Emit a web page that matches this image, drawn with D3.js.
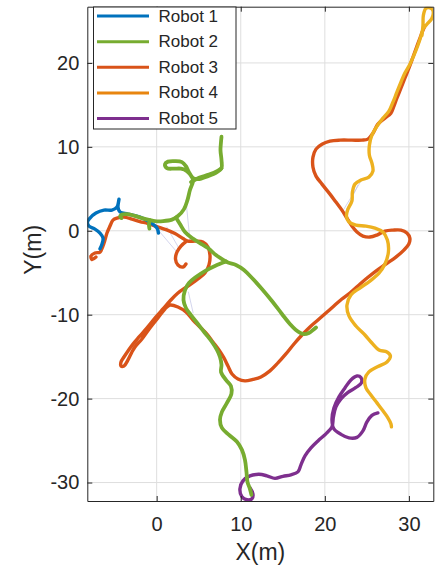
<!DOCTYPE html>
<html>
<head>
<meta charset="utf-8">
<script src="https://cdn.jsdelivr.net/npm/d3@7"></script>
<style>
  body { margin: 0; background: #fff; }
  svg { display: block; }
  text { font-family: Arial, "Liberation Sans", Helvetica, sans-serif; fill: #262626; }
</style>
</head>
<body>
<svg id="chart" width="444" height="570"></svg>
<script>
// ---- data: trajectories in metres, each robot is a list of [x, y] polylines ----
const robotNames = ["Robot 1", "Robot 2", "Robot 3", "Robot 4", "Robot 5"];

const robot1 = [[
  [0.21,-0.27],[0.04,0.32],[-0.80,1.04],[-1.99,1.63],[-3.41,1.99],[-4.36,2.23],[-4.60,2.82],
  [-4.48,3.77],[-4.72,2.82],[-5.32,2.46],[-6.27,2.46],[-7.22,2.11],[-7.93,1.51],[-8.23,1.04],
  [-8.05,0.56],[-7.34,0.20],[-6.74,-0.27],[-6.38,-0.87],[-6.50,-1.58],[-6.74,-2.14]
]];

const robot2 = [
  [[7.71,11.21],[7.65,10.56],[7.59,9.61],[7.71,8.42],[7.71,7.46],[7.17,6.99],[6.10,6.51],
   [4.91,6.15],[4.32,6.27],[3.84,6.99],[3.48,7.70],[3.01,8.18],[2.18,8.30],[1.34,8.24],
   [0.99,7.94],[1.22,7.46],[2.06,7.40],[2.89,7.40],[3.60,7.11],[4.20,6.39],[4.32,5.92],
   [3.96,4.85],[3.66,3.65],[3.25,2.58],[2.53,1.75],[1.82,1.33],[0.75,1.15],[-0.20,1.15],
   [-0.80,1.27],[-1.75,1.51],[-2.70,1.81],[-3.53,1.99],[-4.13,1.93],[-4.36,1.69],[-4.19,1.51]],
  [[4.08,5.80],[5.03,6.33],[6.22,6.69],[7.29,7.17],[7.71,7.46]],
  [[-0.80,1.27],[-0.92,0.80],[-0.86,0.26]],
  [[2.29,1.57],[2.77,0.80],[3.37,-0.15],[4.20,-0.87],[5.15,-1.46],[6.10,-2.06],[7.05,-2.89],
   [7.76,-3.37],[8.48,-3.79],[9.43,-4.08],[10.38,-4.68],[11.34,-5.63],[12.52,-6.94],[13.71,-8.37],
   [14.90,-9.92],[15.85,-11.11],[16.56,-11.82],[17.40,-12.30],[18.11,-12.18],[18.59,-11.82],[18.95,-11.52]],
  [[8.24,-3.67],[6.93,-4.20],[5.74,-4.80],[4.67,-5.51],[3.84,-6.23],[3.37,-7.06],[3.19,-8.25],
   [3.48,-9.20],[4.08,-10.04],[4.91,-11.11],[5.74,-12.18],[6.58,-13.25],[7.17,-14.20],[7.53,-15.04],
   [7.71,-15.99],[7.65,-16.82],[8.24,-17.77],[8.83,-18.49],[8.89,-19.44],[8.36,-20.51],[7.76,-21.58],
   [7.53,-22.52],[7.76,-23.49],[8.60,-24.32],[9.55,-25.15],[10.14,-26.11],[10.50,-27.30],[10.68,-28.73],
   [10.80,-29.92],[11.09,-30.75],[11.27,-31.46]]
];

const robot3 = [
  [[-7.22,-3.13],[-7.69,-3.43],[-7.81,-3.01],[-7.34,-2.65],[-6.74,-2.54],[-6.39,-1.82],[-6.15,-1.11],
   [-5.91,-0.27],[-5.55,0.56],[-5.20,1.27],[-4.72,1.51],[-3.89,1.63],[-2.94,1.39],[-1.99,1.10],
   [-1.03,0.86],[0.04,0.50],[1.11,0.14],[2.18,-0.33],[3.13,-0.93],[3.72,-1.23],[4.67,-1.23],
   [5.50,-1.35],[6.10,-1.94],[6.34,-2.89],[6.22,-4.08],[5.74,-5.04],[4.91,-5.75],[3.72,-6.58],
   [2.53,-7.42],[1.58,-8.37],[0.75,-9.32],[-0.08,-10.27],[-1.15,-11.58],[-2.10,-12.65],[-2.82,-13.49],
   [-3.41,-14.32],[-3.89,-15.04],[-4.24,-15.63],[-4.24,-16.11],[-3.89,-16.11],[-3.41,-15.39],
   [-2.94,-14.44],[-2.58,-13.85],[-1.75,-12.89],[-0.80,-11.58],[0.15,-10.39],[0.99,-9.32],
   [1.58,-8.85],[2.53,-9.08],[3.48,-9.68],[4.32,-10.63],[5.15,-11.46],[5.98,-12.30],[6.69,-13.25],
   [7.41,-14.20],[8.00,-15.15],[8.48,-16.11],[8.96,-17.06],[9.67,-17.65],[10.50,-17.89],[11.45,-17.71],
   [12.40,-17.42],[13.47,-16.70],[14.42,-15.75],[15.37,-14.68],[16.33,-13.49],[17.28,-12.42],
   [18.23,-11.46],[19.18,-10.63],[20.13,-9.80],[21.08,-8.96],[22.03,-8.13],[22.98,-7.42],[23.93,-6.58],
   [24.88,-5.75],[26.07,-4.80],[27.26,-3.96],[28.45,-3.13],[29.40,-2.30],[29.99,-1.58],[30.11,-0.87],
   [29.76,-0.27],[29.05,0.08],[28.10,0.08],[27.15,-0.04],[26.20,-0.51],[25.36,-0.75],[24.53,-0.63],
   [23.82,-0.15],[23.22,0.56],[22.63,1.51],[22.03,2.46],[21.32,3.42],[20.61,4.37],[19.66,5.56],
   [18.95,6.51],[18.59,7.58],[18.59,8.77],[18.95,9.73],[19.66,10.32],[20.61,10.68],[21.79,10.80],
   [23.22,10.80],[24.41,10.80],[25.12,10.92],[25.72,11.63],[26.31,12.70],[27.15,13.42],[27.86,14.01],
   [28.22,14.85],[28.57,15.80],[29.05,16.99],[29.52,18.18],[30.00,19.37],[30.48,20.68],[30.95,21.99],
   [31.31,22.94],[31.67,23.89],[31.90,24.37]],
  [[3.48,-1.29],[2.89,-1.82],[2.41,-2.54],[2.24,-3.37],[2.53,-4.08],[3.13,-4.32],[3.48,-3.96]]
];

const robot4 = [[
  [31.55,23.30],[31.67,24.49],[31.72,25.68],[32.02,26.50],[32.50,26.55],[32.85,26.27],[32.74,25.32],
  [32.14,24.61],[31.67,24.01],[31.43,23.18],[31.07,22.11],[30.60,20.92],[30.12,19.85],[29.52,18.79],
  [29.05,17.70],[28.57,16.51],[28.10,15.32],[27.62,14.25],[26.91,13.42],[26.20,12.46],[25.60,11.39],
  [25.30,10.20],[25.30,9.01],[25.60,8.06],[25.72,7.11],[25.24,6.39],[24.29,6.04],[23.58,5.56],
  [23.28,4.61],[23.22,3.54],[22.75,2.58],[22.57,1.75],[22.87,1.04],[23.70,0.68],[24.89,0.56],
  [25.96,0.32],[26.91,-0.15],[27.44,-1.11],[27.56,-2.54],[27.15,-3.96],[26.44,-5.04],[25.36,-5.99],
  [24.17,-6.82],[23.10,-7.65],[22.63,-8.85],[22.87,-10.15],[23.70,-11.35],[24.77,-12.42],[25.60,-13.37],
  [26.44,-14.20],[27.39,-14.44],[27.80,-14.92],[27.39,-15.63],[26.32,-16.17],[25.24,-16.82],
  [24.77,-17.65],[24.89,-18.73],[25.48,-19.56],[26.20,-20.51],[26.91,-21.46],[27.50,-22.30],
  [27.86,-23.01],[27.92,-23.37]
]];

const robot5 = [[
  [26.31,-21.70],[25.60,-22.00],[25.01,-22.77],[24.53,-23.85],[23.82,-24.62],[22.87,-24.68],
  [21.92,-24.26],[21.08,-23.61],[20.85,-22.54],[21.08,-21.11],[21.68,-19.80],[22.39,-18.73],
  [23.10,-17.77],[23.82,-17.30],[24.29,-17.48],[24.35,-18.13],[23.70,-18.67],[22.75,-19.26],
  [21.92,-20.04],[21.32,-20.99],[21.02,-22.18],[20.85,-23.37],[20.13,-24.20],[19.18,-25.04],
  [18.35,-25.87],[17.64,-26.82],[17.16,-27.89],[16.80,-28.73],[15.97,-29.08],[15.02,-29.26],
  [14.07,-29.50],[13.12,-29.20],[12.16,-29.02],[11.09,-29.20],[10.26,-29.80],[9.90,-30.75],
  [10.14,-31.70],[10.74,-32.05],[11.33,-31.94],[11.45,-31.35],[11.09,-30.63]
]];

// faint reference paths
const referenceSegments = [
  [[0.19,0.08],[2.38,-2.50]],
  [[1.19,0.48],[2.77,-2.30]],
  [[3.48,3.65],[3.96,-1.13]],
  [[3.76,-7.26],[4.35,-9.83]],
  [[22.19,2.46],[24.38,6.04]],
  [[22.39,2.11],[23.94,5.45]]
];

const xTicks = [0, 10, 20, 30];
const yTicks = [-30, -20, -10, 0, 10, 20];
const xDomain = [-8.25, 32.9];
const yDomain = [-32.2, 26.7];

// ---- drawing ----
const robots = [robot1, robot2, robot3, robot4, robot5];
const lineColors = ["#0072BD", "#77AC30", "#D95319", "#EDB120", "#7E2F8E"];
const legendColors = ["#0072BD", "#77AC30", "#D95319", "#E8850F", "#7E2F8E"];
const lineWidths = [3.4, 3.8, 3.4, 3.4, 3.4];
const drawOrder = [2, 4, 0, 1, 3];

const plot = { left: 87.3, right: 433.3, top: 6.7, bottom: 501 };
const svg = d3.select("#chart");

const x = d3.scaleLinear().domain(xDomain).range([plot.left, plot.right]);
const y = d3.scaleLinear().domain(yDomain).range([plot.bottom, plot.top]);

svg.append("defs").append("clipPath").attr("id", "plot-clip")
  .append("rect")
  .attr("x", plot.left).attr("y", plot.top)
  .attr("width", plot.right - plot.left).attr("height", plot.bottom - plot.top);

// grid
const grid = svg.append("g").attr("stroke", "#dedede").attr("stroke-width", 1);
grid.selectAll(".gx").data(xTicks).join("line")
  .attr("x1", d => x(d)).attr("x2", d => x(d))
  .attr("y1", plot.top).attr("y2", plot.bottom);
grid.selectAll(".gy").data(yTicks).join("line")
  .attr("y1", d => y(d)).attr("y2", d => y(d))
  .attr("x1", plot.left).attr("x2", plot.right);

// trajectories
const line = d3.line().x(d => x(d[0])).y(d => y(d[1])).curve(d3.curveCatmullRom.alpha(0.5));
const marks = svg.append("g").attr("clip-path", "url(#plot-clip)");

marks.append("g").selectAll("path").data(referenceSegments).join("path")
  .attr("d", line).attr("fill", "none")
  .attr("stroke", "#b9bde2").attr("stroke-width", 0.8).attr("opacity", 0.8);

drawOrder.forEach(i => {
  marks.append("g").selectAll("path").data(robots[i]).join("path")
    .attr("d", line)
    .attr("fill", "none")
    .attr("stroke", lineColors[i])
    .attr("stroke-width", lineWidths[i])
    .attr("stroke-linecap", "round")
    .attr("stroke-linejoin", "round");
});

// axes (inward ticks on all four sides)
const tickLen = 5;
const fontSize = 20;
const axisStyle = g => {
  g.select(".domain").attr("stroke", "#262626").attr("stroke-width", 1);
  g.selectAll(".tick line").attr("stroke", "#262626");
  g.selectAll("text").attr("fill", "#262626").style("font-size", fontSize + "px")
    .style("font-family", 'Arial, "Liberation Sans", Helvetica, sans-serif');
};

svg.append("g").attr("transform", `translate(0,${plot.bottom})`)
  .call(d3.axisBottom(x).tickValues(xTicks).tickSizeInner(-tickLen).tickSizeOuter(0).tickPadding(16))
  .call(axisStyle);
svg.append("g").attr("transform", `translate(0,${plot.top})`)
  .call(d3.axisTop(x).tickValues(xTicks).tickSizeInner(-tickLen).tickSizeOuter(0).tickFormat(""))
  .call(axisStyle);
svg.append("g").attr("transform", `translate(${plot.left},0)`)
  .call(d3.axisLeft(y).tickValues(yTicks).tickSizeInner(-tickLen).tickSizeOuter(0).tickPadding(8)
    .tickFormat(d => String(d)))
  .call(axisStyle);
svg.append("g").attr("transform", `translate(${plot.right},0)`)
  .call(d3.axisRight(y).tickValues(yTicks).tickSizeInner(-tickLen).tickSizeOuter(0).tickFormat(""))
  .call(axisStyle);

// axis titles
svg.append("text")
  .attr("x", (plot.left + plot.right) / 2).attr("y", 560)
  .attr("text-anchor", "middle").style("font-size", "23px")
  .text("X(m)");
svg.append("text")
  .attr("transform", `translate(41,${(plot.top + plot.bottom) / 2 - 4}) rotate(-90)`)
  .attr("text-anchor", "middle").style("font-size", "23px")
  .text("Y(m)");

// legend
const legend = svg.append("g");
legend.append("rect")
  .attr("x", 93.5).attr("y", 7).attr("width", 142.5).attr("height", 122)
  .attr("fill", "#fff").attr("stroke", "#262626").attr("stroke-width", 1);
const rowY = d3.scaleLinear().domain([0, 4]).range([21.5, 124]);
const rows = legend.selectAll(".row").data(robotNames).join("g")
  .attr("transform", (d, i) => `translate(0,${rowY(i)})`);
rows.append("line")
  .attr("x1", 97).attr("x2", 149).attr("y1", -5.5).attr("y2", -5.5)
  .attr("stroke", (d, i) => legendColors[i]).attr("stroke-width", 3);
rows.append("text")
  .attr("x", 158.5).attr("y", 0)
  .style("font-size", "17px")
  .text(d => d);
</script>
</body>
</html>
